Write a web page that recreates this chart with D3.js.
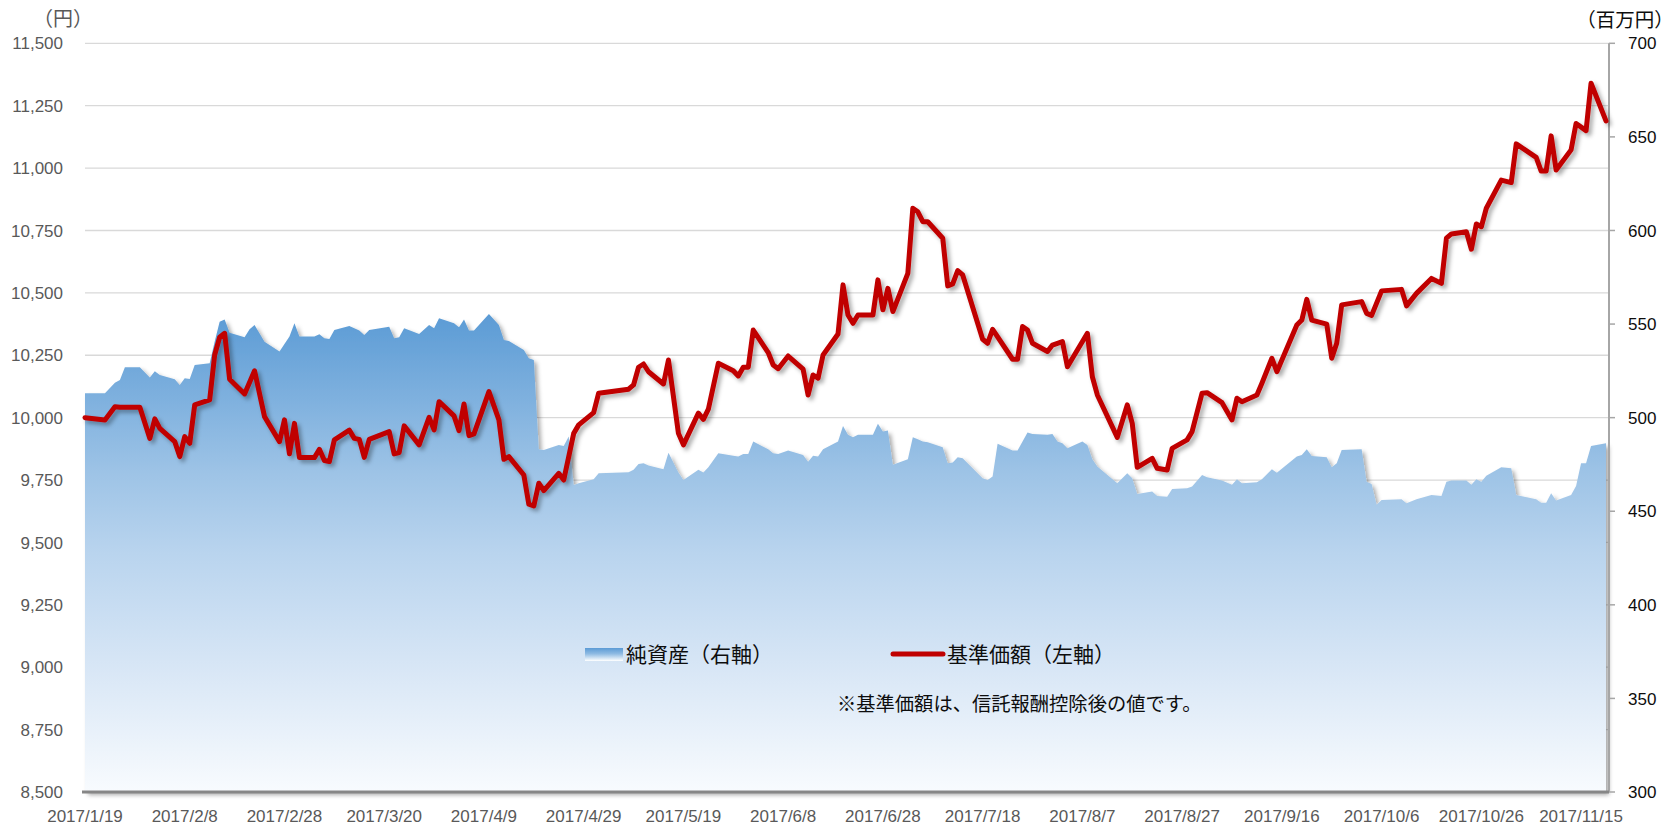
<!DOCTYPE html>
<html lang="ja">
<head>
<meta charset="utf-8">
<script src="https://cdn.jsdelivr.net/npm/d3@7"></script>
<style>
  html, body { margin: 0; padding: 0; background: #ffffff; }
  svg { display: block; }
</style>
</head>
<body>
<svg id="chart" width="1676" height="826"></svg>
<script>
// 基準価額（円） — fund NAV per unit, left axis
const navData = [
  ["2017-01-19",10000],["2017-01-23",9991],["2017-01-25",10044],["2017-01-26",10042],["2017-01-30",10042],
  ["2017-02-01",9917],["2017-02-02",9995],["2017-02-03",9957],["2017-02-06",9904],["2017-02-07",9844],
  ["2017-02-08",9924],["2017-02-09",9897],["2017-02-10",10051],["2017-02-13",10071],["2017-02-14",10251],
  ["2017-02-15",10322],["2017-02-16",10338],["2017-02-17",10154],["2017-02-20",10095],["2017-02-22",10188],
  ["2017-02-24",10004],["2017-02-27",9904],["2017-02-28",9991],["2017-03-01",9855],["2017-03-02",9977],
  ["2017-03-03",9840],["2017-03-06",9840],["2017-03-07",9873],["2017-03-08",9828],["2017-03-09",9824],
  ["2017-03-10",9911],["2017-03-13",9950],["2017-03-14",9917],["2017-03-15",9913],["2017-03-16",9841],
  ["2017-03-17",9913],["2017-03-21",9944],["2017-03-22",9855],["2017-03-23",9860],["2017-03-24",9967],
  ["2017-03-27",9891],["2017-03-29",10001],["2017-03-30",9951],["2017-03-31",10064],["2017-04-03",10007],
  ["2017-04-04",9948],["2017-04-05",10055],["2017-04-06",9928],["2017-04-07",9935],["2017-04-10",10104],
  ["2017-04-12",9991],["2017-04-13",9833],["2017-04-14",9844],["2017-04-17",9770],["2017-04-18",9653],
  ["2017-04-19",9646],["2017-04-20",9737],["2017-04-21",9708],["2017-04-24",9777],["2017-04-25",9750],
  ["2017-04-27",9937],["2017-04-28",9971],["2017-05-01",10020],["2017-05-02",10098],["2017-05-08",10114],
  ["2017-05-09",10131],["2017-05-10",10202],["2017-05-11",10215],["2017-05-12",10184],["2017-05-15",10135],
  ["2017-05-16",10231],["2017-05-18",9937],["2017-05-19",9891],["2017-05-22",10018],["2017-05-23",9993],
  ["2017-05-24",10034],["2017-05-26",10218],["2017-05-29",10188],["2017-05-30",10167],["2017-05-31",10202],
  ["2017-06-01",10202],["2017-06-02",10351],["2017-06-05",10261],["2017-06-06",10211],["2017-06-07",10196],
  ["2017-06-09",10247],["2017-06-12",10194],["2017-06-13",10091],["2017-06-14",10171],["2017-06-15",10158],
  ["2017-06-16",10251],["2017-06-19",10335],["2017-06-20",10532],["2017-06-21",10411],["2017-06-22",10378],
  ["2017-06-23",10411],["2017-06-26",10411],["2017-06-27",10552],["2017-06-28",10432],["2017-06-29",10518],
  ["2017-06-30",10425],["2017-07-03",10578],["2017-07-04",10839],["2017-07-05",10825],["2017-07-06",10785],
  ["2017-07-07",10785],["2017-07-10",10719],["2017-07-11",10528],["2017-07-12",10536],["2017-07-13",10589],
  ["2017-07-14",10572],["2017-07-18",10314],["2017-07-19",10298],["2017-07-20",10354],["2017-07-24",10234],
  ["2017-07-25",10234],["2017-07-26",10365],["2017-07-27",10351],["2017-07-28",10298],["2017-07-31",10265],
  ["2017-08-01",10291],["2017-08-03",10305],["2017-08-04",10204],["2017-08-08",10338],["2017-08-09",10164],
  ["2017-08-10",10091],["2017-08-14",9921],["2017-08-16",10051],["2017-08-17",9977],["2017-08-18",9801],
  ["2017-08-21",9837],["2017-08-22",9797],["2017-08-24",9790],["2017-08-25",9877],["2017-08-28",9911],
  ["2017-08-29",9944],["2017-08-31",10098],["2017-09-01",10100],["2017-09-04",10060],["2017-09-06",9991],
  ["2017-09-07",10078],["2017-09-08",10064],["2017-09-11",10091],["2017-09-12",10138],["2017-09-14",10238],
  ["2017-09-15",10184],["2017-09-19",10371],["2017-09-20",10391],["2017-09-21",10474],["2017-09-22",10391],
  ["2017-09-25",10375],["2017-09-26",10238],["2017-09-27",10298],["2017-09-28",10452],["2017-10-02",10465],
  ["2017-10-03",10418],["2017-10-04",10410],["2017-10-06",10508],["2017-10-10",10514],["2017-10-11",10448],
  ["2017-10-13",10498],["2017-10-16",10558],["2017-10-18",10538],["2017-10-19",10719],["2017-10-20",10736],
  ["2017-10-23",10745],["2017-10-24",10675],["2017-10-25",10776],["2017-10-26",10765],["2017-10-27",10839],
  ["2017-10-30",10952],["2017-11-01",10942],["2017-11-02",11097],["2017-11-06",11043],["2017-11-07",10988],
  ["2017-11-08",10988],["2017-11-09",11129],["2017-11-10",10992],["2017-11-13",11073],["2017-11-14",11179],
  ["2017-11-16",11150],["2017-11-17",11340],["2017-11-20",11189]
];

// 純資産（百万円） — total net assets, right axis
const assetData = [
  ["2017-01-19",513.0],["2017-01-23",513.0],["2017-01-25",518.7],["2017-01-26",520.1],["2017-01-27",526.9],
  ["2017-01-30",526.9],["2017-02-01",521.5],["2017-02-02",524.8],["2017-02-03",522.8],["2017-02-06",520.5],
  ["2017-02-07",517.5],["2017-02-08",521.0],["2017-02-09",520.7],["2017-02-10",528.1],["2017-02-13",529.0],
  ["2017-02-14",540.6],["2017-02-15",551.3],["2017-02-16",552.5],["2017-02-17",545.4],["2017-02-20",542.9],
  ["2017-02-21",547.2],["2017-02-22",549.5],["2017-02-24",540.6],["2017-02-27",535.3],["2017-03-01",543.3],
  ["2017-03-02",550.4],["2017-03-03",543.3],["2017-03-06",543.3],["2017-03-07",544.5],["2017-03-08",542.4],
  ["2017-03-09",542.0],["2017-03-10",546.8],["2017-03-13",549.0],["2017-03-15",546.5],["2017-03-16",544.2],
  ["2017-03-17",546.8],["2017-03-21",548.6],["2017-03-22",542.4],["2017-03-23",542.9],["2017-03-24",547.7],
  ["2017-03-27",544.7],["2017-03-29",549.5],["2017-03-30",547.7],["2017-03-31",553.1],["2017-04-03",550.4],
  ["2017-04-04",548.3],["2017-04-05",552.5],["2017-04-06",546.5],["2017-04-07",546.5],["2017-04-10",555.4],
  ["2017-04-12",549.5],["2017-04-13",541.5],["2017-04-14",541.0],["2017-04-17",536.1],["2017-04-18",531.7],
  ["2017-04-19",530.8],["2017-04-20",483.1],["2017-04-21",482.7],["2017-04-24",485.4],["2017-04-25",484.9],
  ["2017-04-26",489.9],["2017-04-27",464.0],["2017-04-28",464.9],["2017-05-01",467.1],["2017-05-02",470.3],
  ["2017-05-08",470.8],["2017-05-09",472.1],["2017-05-10",475.3],["2017-05-11",475.6],["2017-05-12",474.4],
  ["2017-05-15",472.4],["2017-05-16",481.3],["2017-05-18",470.7],["2017-05-19",466.7],["2017-05-22",472.1],
  ["2017-05-23",470.7],["2017-05-24",473.5],["2017-05-26",481.0],["2017-05-29",479.6],["2017-05-30",479.2],
  ["2017-05-31",480.6],["2017-06-01",480.6],["2017-06-02",487.2],["2017-06-05",483.1],["2017-06-06",481.0],
  ["2017-06-07",480.6],["2017-06-09",482.4],["2017-06-12",480.1],["2017-06-13",476.5],["2017-06-14",479.6],
  ["2017-06-15",479.2],["2017-06-16",483.1],["2017-06-19",487.2],["2017-06-20",495.6],["2017-06-21",490.8],
  ["2017-06-22",489.5],["2017-06-23",490.8],["2017-06-26",490.8],["2017-06-27",496.7],["2017-06-28",492.6],
  ["2017-06-29",493.1],["2017-06-30",474.8],["2017-07-03",477.8],["2017-07-04",489.5],["2017-07-05",488.5],
  ["2017-07-06",487.2],["2017-07-07",486.9],["2017-07-10",484.2],["2017-07-11",475.6],["2017-07-12",476.0],
  ["2017-07-13",478.9],["2017-07-14",478.3],["2017-07-18",467.6],["2017-07-19",466.7],["2017-07-20",468.5],
  ["2017-07-21",486.0],["2017-07-24",482.4],["2017-07-25",482.4],["2017-07-27",492.0],["2017-07-28",491.3],
  ["2017-07-31",490.8],["2017-08-01",491.3],["2017-08-02",487.2],["2017-08-03",486.3],["2017-08-04",483.7],
  ["2017-08-07",487.2],["2017-08-08",485.4],["2017-08-09",477.8],["2017-08-10",473.9],["2017-08-14",465.0],
  ["2017-08-16",470.3],["2017-08-17",467.6],["2017-08-18",459.2],["2017-08-21",460.5],["2017-08-22",458.2],
  ["2017-08-24",457.8],["2017-08-25",461.9],["2017-08-28",462.3],["2017-08-29",463.2],["2017-08-31",469.4],
  ["2017-09-01",468.2],["2017-09-04",466.4],["2017-09-06",464.1],["2017-09-07",467.1],["2017-09-08",464.9],
  ["2017-09-11",465.5],["2017-09-12",467.1],["2017-09-14",472.4],["2017-09-15",470.6],["2017-09-19",479.2],
  ["2017-09-20",480.1],["2017-09-21",483.1],["2017-09-22",479.5],["2017-09-25",478.8],["2017-09-26",473.5],
  ["2017-09-27",475.6],["2017-09-28",482.7],["2017-10-02",483.1],["2017-10-03",465.8],["2017-10-04",464.6],
  ["2017-10-05",453.4],["2017-10-06",456.0],["2017-10-10",456.4],["2017-10-11",454.3],["2017-10-13",456.4],
  ["2017-10-16",458.7],["2017-10-18",458.2],["2017-10-19",465.8],["2017-10-20",466.4],["2017-10-23",466.4],
  ["2017-10-24",464.1],["2017-10-25",467.1],["2017-10-26",465.8],["2017-10-27",468.9],["2017-10-30",473.5],
  ["2017-11-01",472.9],["2017-11-02",458.7],["2017-11-06",456.4],["2017-11-07",454.6],["2017-11-08",454.6],
  ["2017-11-09",459.6],["2017-11-10",455.7],["2017-11-13",458.7],["2017-11-14",463.5],["2017-11-15",475.6],
  ["2017-11-16",475.6],["2017-11-17",484.9],["2017-11-20",486.3]
];

const leftTicks  = [8500, 8750, 9000, 9250, 9500, 9750, 10000, 10250, 10500, 10750, 11000, 11250, 11500];
const rightTicks = [300, 350, 400, 450, 500, 550, 600, 650, 700];
const xTickDates = ["2017-01-19","2017-02-08","2017-02-28","2017-03-20","2017-04-09","2017-04-29",
                    "2017-05-19","2017-06-08","2017-06-28","2017-07-18","2017-08-07","2017-08-27",
                    "2017-09-16","2017-10-06","2017-10-26","2017-11-15"];
const legendLabels = ["純資産（右軸）", "基準価額（左軸）"];
const noteText  = "※基準価額は、信託報酬控除後の値です。";
const leftUnit  = "（円）";
const rightUnit = "（百万円）";

const parse = d3.utcParse("%Y-%m-%d");
const nav = navData.map(([d, v]) => ({ date: parse(d), value: v }));
const assets = assetData.map(([d, v]) => ({ date: parse(d), value: v }));

// plot frame
const L = 85, R = 1609, T = 43.3, B = 792;
const latinFont = "'Liberation Sans', Arial, sans-serif";
const cjkFont = "'Noto Sans CJK JP', 'Noto Sans', sans-serif";

const x = d3.scaleUtc()
  .domain([parse("2017-01-19"), parse("2017-11-20")])
  .range([L, 1606]);
const yL = d3.scaleLinear().domain([8500, 11500]).range([B, T]);
const yR = d3.scaleLinear().domain([300, 700]).range([B, T]);

const svg = d3.select("#chart");
const defs = svg.append("defs");

const areaTop = yR(d3.max(assets, d => d.value));
const grad = defs.append("linearGradient")
  .attr("id", "assetFill").attr("gradientUnits", "userSpaceOnUse")
  .attr("x1", 0).attr("x2", 0).attr("y1", areaTop).attr("y2", B);
[[0, "#5b9bd5"], [0.33, "#9dc3e6"], [0.5, "#b9d4ee"], [0.75, "#d9e7f6"], [1, "#f8fbfe"]]
  .forEach(([o, c]) => grad.append("stop").attr("offset", o).attr("stop-color", c));

const swGrad = defs.append("linearGradient")
  .attr("id", "swatchFill").attr("x1", 0).attr("x2", 0).attr("y1", 0).attr("y2", 1);
[[0, "#5b9bd5"], [0.45, "#8fbbe3"], [1, "#ffffff"]]
  .forEach(([o, c]) => swGrad.append("stop").attr("offset", o).attr("stop-color", c));

const shadow = defs.append("filter").attr("id", "shadow")
  .attr("x", "-5%").attr("y", "-10%").attr("width", "110%").attr("height", "125%");
shadow.append("feDropShadow").attr("dx", 3).attr("dy", 3).attr("stdDeviation", 2)
  .attr("flood-color", "#000").attr("flood-opacity", 0.33);

// horizontal gridlines (left axis)
svg.append("g").selectAll("line").data(leftTicks.filter(v => v > 8500)).join("line")
  .attr("x1", L).attr("x2", R)
  .attr("y1", d => yL(d)).attr("y2", d => yL(d))
  .attr("stroke", "#d9d9d9").attr("stroke-width", 1.3);

// net assets area
svg.append("path").datum(assets)
  .attr("d", d3.area().x(d => x(d.date)).y0(B).y1(d => yR(d.value)))
  .attr("fill", "url(#assetFill)")
  .attr("filter", "url(#shadow)");

// right axis line with outer ticks
const rAxis = svg.append("g");
rAxis.append("line").attr("x1", R).attr("x2", R).attr("y1", T).attr("y2", B)
  .attr("stroke", "#a6a6a6").attr("stroke-width", 2);
rAxis.selectAll("line.tick").data(rightTicks).join("line").attr("class", "tick")
  .attr("x1", R).attr("x2", R + 6)
  .attr("y1", d => yR(d)).attr("y2", d => yR(d))
  .attr("stroke", "#a6a6a6").attr("stroke-width", 1.5);
rAxis.selectAll("text").data(rightTicks).join("text")
  .attr("x", 1628).attr("y", d => yR(d)).attr("dy", "0.36em")
  .attr("font-family", latinFont).attr("font-size", 17).attr("fill", "#0d0d0d")
  .text(d => d);

// bottom axis line
svg.append("line").attr("x1", L - 3).attr("x2", R).attr("y1", B).attr("y2", B)
  .attr("stroke", "#868686").attr("stroke-width", 3);

// NAV line
svg.append("path").datum(nav)
  .attr("d", d3.line().x(d => x(d.date)).y(d => yL(d.value)))
  .attr("fill", "none").attr("stroke", "#c00000").attr("stroke-width", 5)
  .attr("stroke-linejoin", "round").attr("stroke-linecap", "round")
  .attr("filter", "url(#shadow)");

// left tick labels
svg.append("g").selectAll("text").data(leftTicks).join("text")
  .attr("x", 63).attr("y", d => yL(d)).attr("dy", "0.36em")
  .attr("text-anchor", "end")
  .attr("font-family", latinFont).attr("font-size", 17).attr("fill", "#595959")
  .text(d => d3.format(",")(d));

// date tick labels
const fmt = d3.utcFormat("%Y/%-m/%-d");
svg.append("g").selectAll("text").data(xTickDates.map(parse)).join("text")
  .attr("x", d => x(d)).attr("y", 822)
  .attr("text-anchor", "middle")
  .attr("font-family", latinFont).attr("font-size", 17).attr("fill", "#595959")
  .text(d => fmt(d));

// unit labels
svg.append("text").attr("x", 63).attr("y", 19).attr("dy", "0.36em")
  .attr("text-anchor", "middle").attr("font-family", cjkFont).attr("font-size", 20)
  .attr("fill", "#595959").text(leftUnit);
svg.append("text").attr("x", 1625).attr("y", 20).attr("dy", "0.36em")
  .attr("text-anchor", "middle").attr("font-family", cjkFont).attr("font-size", 19.5)
  .attr("fill", "#0d0d0d").text(rightUnit);

// legend
const lg = svg.append("g").attr("font-family", cjkFont).attr("font-size", 21).attr("fill", "#0d0d0d");
lg.append("rect").attr("x", 585).attr("y", 648).attr("width", 38).attr("height", 13)
  .attr("fill", "url(#swatchFill)");
lg.append("text").attr("x", 626).attr("y", 654).attr("dy", "0.36em").text(legendLabels[0]);
lg.append("line").attr("x1", 893).attr("x2", 943).attr("y1", 654).attr("y2", 654)
  .attr("stroke", "#c00000").attr("stroke-width", 5).attr("stroke-linecap", "round");
lg.append("text").attr("x", 947).attr("y", 654).attr("dy", "0.36em").text(legendLabels[1]);

svg.append("text").attr("x", 837).attr("y", 704).attr("dy", "0.36em")
  .attr("font-family", cjkFont).attr("font-size", 19.3).attr("fill", "#0d0d0d")
  .text(noteText);
</script>
</body>
</html>
